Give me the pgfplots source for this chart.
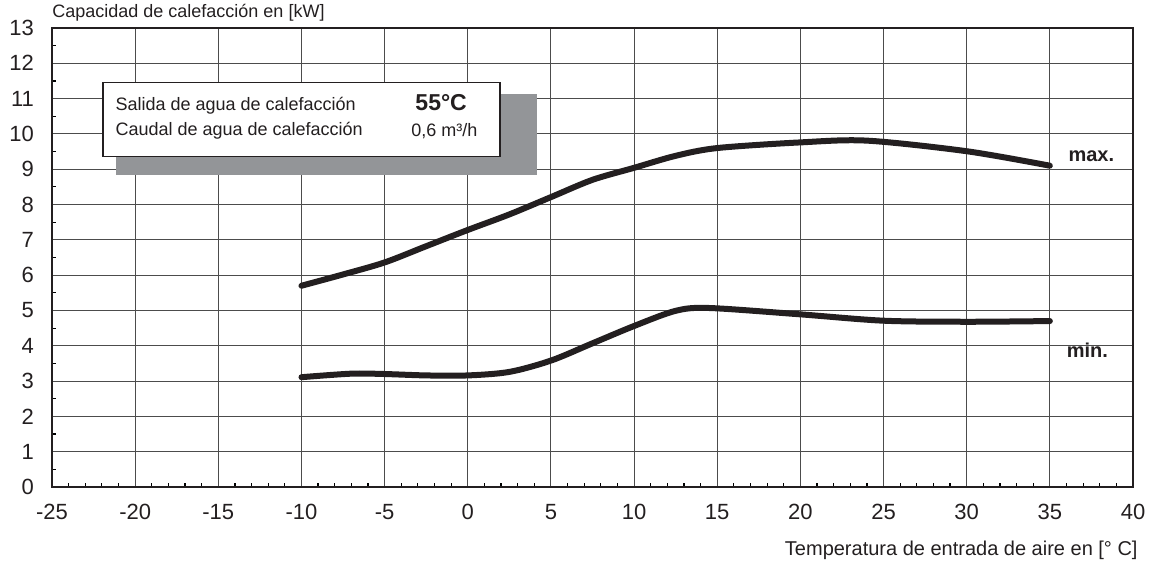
\documentclass[border=0pt]{standalone}
\usepackage{fontspec}
\setmainfont{Liberation Sans}
\usepackage{pgfplots}
\pgfplotsset{compat=1.18}
\definecolor{shadowgray}{HTML}{939598}
\definecolor{ink}{HTML}{231F20}
\begin{document}
\begin{tikzpicture}
\useasboundingbox (-26pt,-40.5pt) rectangle (551pt,243.5pt);
\begin{axis}[
  at={(0,0)}, anchor=south west,
  scale only axis, width=540.5pt, height=229.5pt,
  xmin=-25, xmax=40, ymin=0, ymax=13,
  xtick={-25,-20,...,40}, ytick={0,1,...,13},
  minor x tick num=4, minor y tick num=1,
  xtick pos=bottom, ytick pos=left,
  tick align=inside,
  major tick length=0pt, minor tick length=2.2pt,
  every minor tick/.style={black, line width=0.6pt},
  grid=major,
  major grid style={black!70, line width=0.55pt},
  axis line style={ink, line width=0.8pt},
  /pgf/number format/assume math mode=true,
  ticklabel style={font=\fontsize{11}{13}\selectfont, text=ink},
  yticklabel style={xshift=-5.5pt},
  xticklabel style={yshift=-5pt},
  clip=false,
]
% shadow and info box
\fill[shadowgray] (axis cs:-21.15,8.85) rectangle (axis cs:4.16,11.14);
\filldraw[fill=white, draw=ink, line width=0.6pt] (axis cs:-21.93,9.36) rectangle (axis cs:1.94,11.46);
\node[anchor=base west, font=\fontsize{9}{11}\selectfont, text=ink, inner sep=0] at (axis cs:-21.2,10.65) {Salida de agua de calefacción};
\node[anchor=base west, font=\fontsize{9}{11}\selectfont, text=ink, inner sep=0] at (axis cs:-21.2,9.95) {Caudal de agua de calefacción};
\node[anchor=base, font=\bfseries\fontsize{11.5}{13}\selectfont, text=ink, inner sep=0] at (axis cs:-1.6,10.65) {55°C};
\node[anchor=base, font=\fontsize{9}{11}\selectfont, text=ink, inner sep=0] at (axis cs:-1.4,9.93) {0,6 m³/h};

\addplot[ink, line width=3pt, line cap=round, smooth, tension=0.5] coordinates {
  (-10,5.70) (-7.5,6.02) (-5,6.36) (-2.5,6.82) (0,7.28) (2.5,7.72) (5,8.21) (7.5,8.70) (10,9.04) (12.5,9.38) (15,9.60) (20,9.76) (24,9.81) (30,9.51) (35,9.10)
};
\addplot[ink, line width=3pt, line cap=round, smooth, tension=0.5] coordinates {
  (-10,3.11) (-7,3.21) (-5,3.20) (-2.5,3.16) (0,3.16) (2.5,3.26) (5,3.58) (7.5,4.07) (10,4.56) (12.5,4.99) (14.5,5.07) (20,4.89) (25,4.71) (30,4.68) (35,4.70)
};
\node[anchor=west, font=\bfseries\fontsize{10}{12}\selectfont, text=ink, inner sep=0] at (axis cs:36.1,9.36) {max.};
\node[anchor=west, font=\bfseries\fontsize{10}{12}\selectfont, text=ink, inner sep=0] at (axis cs:36.0,3.88) {min.};

\node[anchor=south west, font=\fontsize{9}{11}\selectfont, text=ink, inner sep=0] at ([yshift=3pt]rel axis cs:0,1) {Capacidad de calefacción en [kW]};
\node[anchor=north east, font=\fontsize{10}{12}\selectfont, text=ink, inner sep=0] at ([xshift=2.5pt,yshift=-27pt]rel axis cs:1,0) {Temperatura de entrada de aire en [° C]};
\end{axis}
\end{tikzpicture}
\end{document}
